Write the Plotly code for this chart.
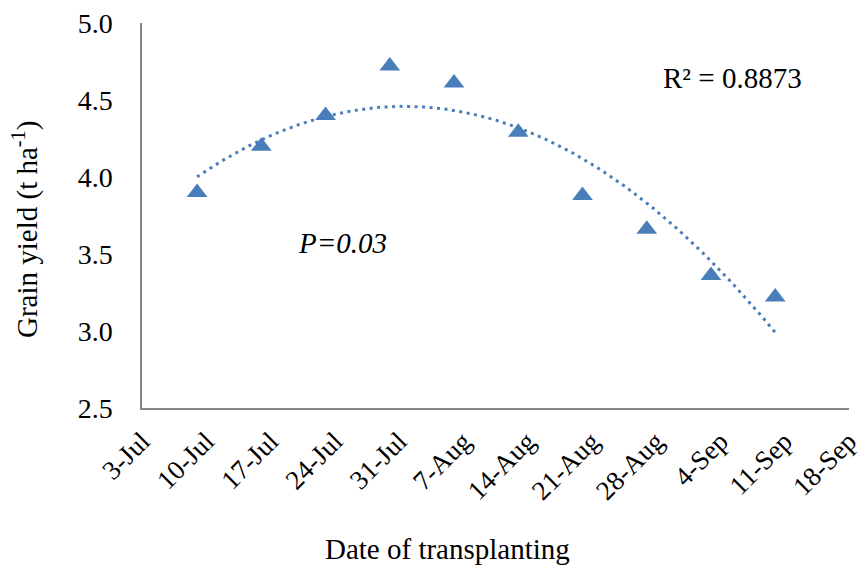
import numpy as np
import pandas as pd
import plotly.graph_objects as go

dates = ["2020-07-09", "2020-07-16", "2020-07-23", "2020-07-30", "2020-08-06",
         "2020-08-13", "2020-08-20", "2020-08-27", "2020-09-03", "2020-09-10"]
yields = [3.90, 4.20, 4.40, 4.72, 4.61, 4.29, 3.88, 3.66, 3.36, 3.22]
tick_dates = ["2020-07-03", "2020-07-10", "2020-07-17", "2020-07-24", "2020-07-31",
              "2020-08-07", "2020-08-14", "2020-08-21", "2020-08-28", "2020-09-04",
              "2020-09-11", "2020-09-18"]
tick_labels = ["3-Jul", "10-Jul", "17-Jul", "24-Jul", "31-Jul", "7-Aug", "14-Aug",
               "21-Aug", "28-Aug", "4-Sep", "11-Sep", "18-Sep"]
r2_text = "R² = 0.8873"
p_text = "<i>P=0.03</i>"

# polynomial (order 2) trendline computed from the data
d = pd.to_datetime(dates)
t0 = d[0]
days = np.array([(x - t0).days for x in d], dtype=float)
coef = np.polyfit(days, yields, 2)
tt = np.linspace(days[0], days[-1], 200)
trend_y = np.polyval(coef, tt)
trend_x = [t0 + pd.Timedelta(days=float(v)) for v in tt]

blue = "#4a7ebb"
font = "Liberation Serif, Times New Roman, serif"
FS = 29

W, H = 861, 569
L, R, T, B = 142, 12, 23, 161

fig = go.Figure()
fig.add_trace(go.Scatter(x=trend_x, y=trend_y, mode="lines",
                         line=dict(color=blue, width=3, dash="3px,4.5px"),
                         hoverinfo="skip", showlegend=False))
fig.add_trace(go.Scatter(x=d, y=yields, mode="markers",
                         marker=dict(symbol="triangle-up", size=18, color=blue),
                         showlegend=False))

x_end = pd.Timestamp(tick_dates[-1]) + pd.Timedelta(hours=1)
fig.update_layout(
    width=W, height=H,
    margin=dict(l=L, r=R, t=T, b=B),
    paper_bgcolor="white", plot_bgcolor="white",
    font=dict(family=font, size=FS, color="black"),
    xaxis=dict(range=[tick_dates[0], x_end], tickvals=tick_dates,
               ticktext=tick_labels, tickangle=-45, showgrid=False,
               showline=True, linecolor="#868686", linewidth=1.5,
               ticks="", zeroline=False, ticklabelstandoff=5,
               ticklabeloverflow="allow", automargin=False,
               tickfont=dict(family=font, size=27)),
    yaxis=dict(range=[2.5, 5.0], dtick=0.5, tickformat=".1f", showgrid=False,
               showline=True, linecolor="#868686", linewidth=1.5,
               ticks="", zeroline=False, ticklabelstandoff=22,
               automargin=False,
               tickfont=dict(family=font, size=FS - 1)),
)

pw, ph = W - L - R, H - T - B
def px(xp):
    return (xp - L) / pw
def py(yp):
    return (H - B - yp) / ph

common = dict(xref="paper", yref="paper", showarrow=False,
              xanchor="center", yanchor="middle")
fig.add_annotation(text="Date of transplanting", x=px(447), y=py(549),
                   font=dict(size=FS), **common)
fig.add_annotation(text="Grain yield (t ha<sup>-1</sup>)", textangle=-90,
                   x=px(25), y=py(230), font=dict(size=FS), **common)
fig.add_annotation(text=r2_text, x=px(732), y=py(78), font=dict(size=FS), **common)
fig.add_annotation(text=p_text, x=px(342), y=py(243), font=dict(size=FS), **common)

fig.write_html("out.html", config={"displayModeBar": False},
               post_script="document.body.style.margin='0px';")
